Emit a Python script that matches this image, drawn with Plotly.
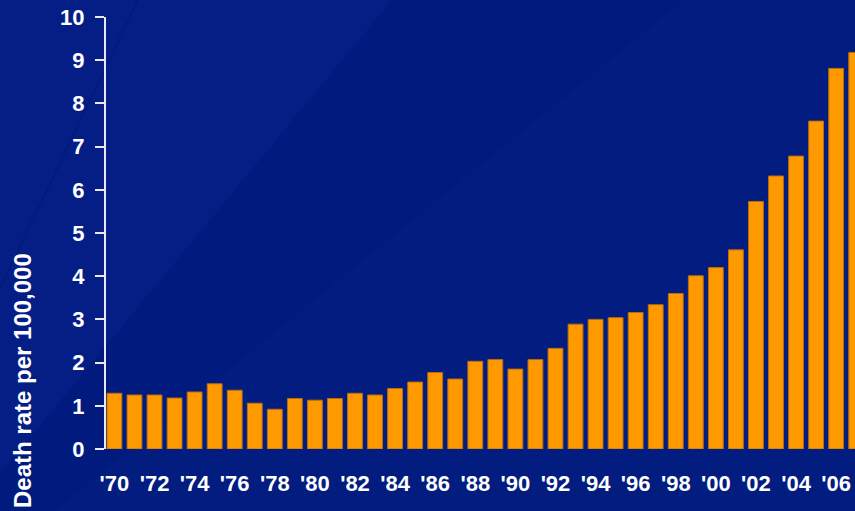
import plotly.graph_objects as go

# Annual death rate per 100,000, 1970-2007
years = list(range(1970, 2008))
death_rate = [
    1.29, 1.25, 1.25, 1.18, 1.32, 1.51, 1.36, 1.06, 0.92, 1.17,
    1.13, 1.17, 1.29, 1.25, 1.40, 1.55, 1.77, 1.62, 2.03, 2.07,
    1.85, 2.07, 2.33, 2.89, 3.00, 3.04, 3.16, 3.34, 3.60, 4.01,
    4.20, 4.61, 5.73, 6.32, 6.78, 7.59, 8.81, 9.18,
]
tick_years = list(range(1970, 2007, 2))
tick_text = ["'" + str(y)[2:] for y in tick_years]
y_ticks = list(range(0, 11))

W, H = 855, 511
M_L, M_R, M_T, M_B = 106, 0, 17, 62
PW, PH = W - M_L - M_R, H - M_T - M_B


def px(x, y):
    """Convert page pixels to paper coordinates."""
    return (x - M_L) / PW, (H - M_B - y) / PH


def path_of(points, close=True):
    pts = [px(x, y) for x, y in points]
    p = "M " + " L ".join(f"{a:.4f},{b:.4f}" for a, b in pts)
    return p + (" Z" if close else "")


def poly(points, color, opacity):
    return dict(type="path", path=path_of(points), xref="paper", yref="paper",
                fillcolor=color, opacity=opacity, line=dict(width=0),
                layer="below")


def streak(points, color, width, opacity):
    return dict(type="path", path=path_of(points, close=False),
                xref="paper", yref="paper", opacity=opacity,
                line=dict(color=color, width=width), layer="below")


font = dict(family="Liberation Sans, Arial, sans-serif", color="white",
            weight="bold")

fig = go.Figure(go.Bar(
    x=years, y=death_rate, width=0.74,
    marker=dict(color="#FF9900", line=dict(color="#B86E10", width=1)),
    hoverinfo="x+y",
))

# Faint diagonal sheen over the dark blue backdrop
shapes = [
    poly([(0, 0), (392, 0), (0, 474)], "#1a3cb0", 0.14),
    poly([(684, 0), (855, 0), (855, 511), (54, 511)], "#1a3cb0", 0.06),
    streak([(138, 0), (0, 288)], "#00106a", 1.2, 0.35),
]

fig.update_layout(
    width=W, height=H,
    margin=dict(l=M_L, r=M_R, t=M_T, b=M_B, pad=0),
    paper_bgcolor="#011a7e",
    plot_bgcolor="rgba(0,0,0,0)",
    showlegend=False,
    shapes=shapes,
    xaxis=dict(
        range=[1969.58, 2006.94],
        tickmode="array", tickvals=tick_years, ticktext=tick_text,
        tickfont=dict(size=22, **font),
        ticks="", showline=False, showgrid=False, zeroline=False,
        ticklabelstandoff=19,
    ),
    yaxis=dict(
        range=[0, 10],
        tickmode="array", tickvals=y_ticks,
        tickfont=dict(size=22, **font),
        ticks="outside", ticklen=9, tickwidth=2, tickcolor="#E8E8F0",
        showline=True, linewidth=2, linecolor="#E8E8F0",
        showgrid=False, zeroline=False,
        ticklabelstandoff=6,
    ),
    annotations=[dict(
        text="Death rate per 100,000",
        xref="paper", yref="paper",
        x=px(7, 0)[0], y=px(0, 510)[1],
        xanchor="left", yanchor="bottom",
        textangle=-90, showarrow=False,
        font=dict(size=24, **font),
    )],
)

fig.write_html("out.html")
